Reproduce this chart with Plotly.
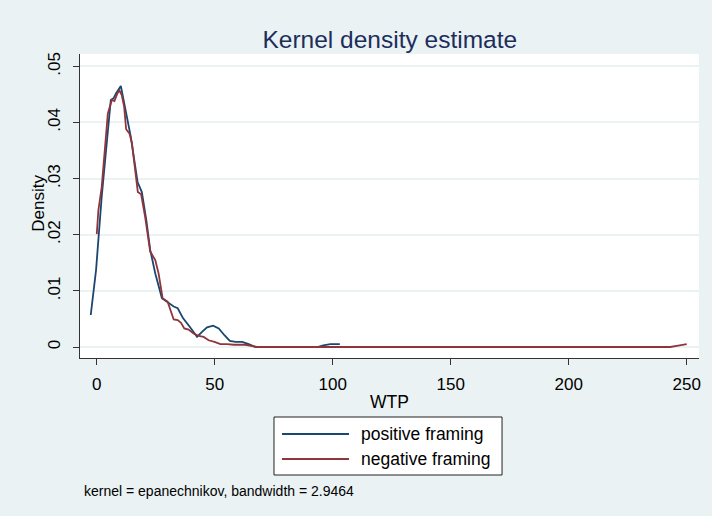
import plotly.graph_objects as go

# Kernel density estimates of willingness to pay (WTP) by framing condition
pos_wtp = [-2.55, -0.3, 2.1, 4.25, 5.95, 7.1, 8.2, 10.2, 11.3, 12.75, 14.45, 15.9, 17.3,
           19.1, 21.0, 22.65, 24.8, 27.6, 29.75, 32.6, 34.3, 36.6, 39.4, 42.5, 44.6,
           46.75, 49.3, 51.7, 54.1, 56.4, 58.8, 61.6, 64.4, 67.3, 75, 85, 93.5, 96,
           99, 103]
pos_density = [0.0057, 0.0137, 0.0268, 0.0368, 0.0440, 0.0443, 0.0452, 0.0465, 0.0440,
               0.0410, 0.0374, 0.0333, 0.0294, 0.0276, 0.0226, 0.0173, 0.0131, 0.0087,
               0.0081, 0.0072, 0.0069, 0.0051, 0.0036, 0.0018, 0.0027, 0.0035, 0.0038,
               0.0033, 0.0021, 0.0011, 0.0009, 0.0009, 0.0005, 0.0000, 0.0000, 0.0000,
               0.0000, 0.0003, 0.0005, 0.0005]

neg_wtp = [0.0, 0.7, 2.1, 3.2, 4.7, 6.4, 7.5, 8.8, 9.6, 10.6, 11.6, 12.45, 13.9, 14.9,
           16.3, 17.4, 18.8, 20.5, 22.65, 24.8, 26.2, 27.9, 30.0, 31.15, 32.6, 34.3,
           35.7, 37.1, 38.9, 41.0, 43.2, 45.3, 47.4, 49.9, 52.4, 55.2, 58.1, 63.0,
           65.8, 68.0, 100, 150, 200, 243, 247, 250]
neg_density = [0.0201, 0.0244, 0.0285, 0.0345, 0.0416, 0.0440, 0.0438, 0.0452, 0.0457,
               0.0449, 0.0428, 0.0388, 0.0380, 0.0363, 0.0315, 0.0276, 0.0272, 0.0232,
               0.0170, 0.0155, 0.0131, 0.0087, 0.0081, 0.0066, 0.0049, 0.0048, 0.0043,
               0.0033, 0.0031, 0.0024, 0.0020, 0.0018, 0.0012, 0.0009, 0.0005, 0.0005,
               0.0004, 0.0004, 0.0001, 0.0000, 0.0000, 0.0000, 0.0000, 0.0000, 0.0003,
               0.0005]

series_names = ["positive framing", "negative framing"]
series_colors = ["#1a476f", "#90353b"]

x_ticks = [0, 50, 100, 150, 200, 250]
y_ticks = [0, 0.01, 0.02, 0.03, 0.04, 0.05]
y_tick_labels = ["0", ".01", ".02", ".03", ".04", ".05"]

BG = "#EAF2F3"
AXIS = "#333333"
FONT = "Liberation Sans, Arial, sans-serif"
LINE_W = 1.8

fig = go.Figure()
for xs, ys, name, color in zip([pos_wtp, neg_wtp], [pos_density, neg_density],
                               series_names, series_colors):
    fig.add_trace(go.Scatter(x=xs, y=ys, mode="lines", name=name, showlegend=False,
                             line=dict(color=color, width=LINE_W)))

# Stata-style legend box below the plot: wide line keys with labels
box = dict(x0=0.3134, x1=0.6818, y0=-0.3849, y1=-0.1941)
key_x0, key_x1, label_x = 0.3263, 0.4346, 0.4507
row_y = [-0.250, -0.3322]

shapes = [dict(type="rect", xref="paper", yref="paper", line=dict(color="#222222", width=1),
               fillcolor="white", layer="above", **box)]
annotations = []
for name, color, yy in zip(series_names, series_colors, row_y):
    shapes.append(dict(type="line", xref="paper", yref="paper", x0=key_x0, x1=key_x1,
                       y0=yy, y1=yy, line=dict(color=color, width=LINE_W), layer="above"))
    annotations.append(dict(text=name, xref="paper", yref="paper", x=label_x, y=yy,
                            xanchor="left", yanchor="middle", showarrow=False,
                            font=dict(size=17.5, family=FONT, color="black")))

# y-axis title, rotated, sitting close to the tick labels
annotations.append(dict(text="Density", xref="paper", yref="paper", x=-0.0667, y=0.51,
                        xanchor="center", yanchor="middle", textangle=-90,
                        showarrow=False, font=dict(size=17, family=FONT, color="black")))

annotations.append(dict(text="kernel = epanechnikov, bandwidth = 2.9464",
                        xref="paper", yref="paper", x=0.004, y=-0.438,
                        xanchor="left", yanchor="middle", showarrow=False,
                        font=dict(size=14, family=FONT, color="black")))

fig.update_layout(
    width=712, height=516,
    margin=dict(l=80, r=13, t=54, b=158),
    paper_bgcolor=BG, plot_bgcolor="white",
    font=dict(family=FONT, color="black", size=17),
    title=dict(text="Kernel density estimate", x=0.5475, xanchor="center",
               y=1 - 39.5 / 516, yanchor="middle",
               font=dict(size=24.5, color="#1c2e5c", family=FONT)),
    shapes=shapes,
    annotations=annotations,
)

fig.update_xaxes(range=[-7.1, 255.2], tickvals=x_ticks, showgrid=False, zeroline=False,
                 showline=True, linecolor=AXIS, linewidth=1, ticks="outside",
                 ticklen=6, tickcolor=AXIS, tickfont=dict(size=17),
                 ticklabelstandoff=5,
                 title=dict(text="WTP", standoff=2, font=dict(size=17.5)))
fig.update_yaxes(range=[-0.00196, 0.0522], tickvals=y_ticks, ticktext=y_tick_labels,
                 tickangle=-90, showgrid=True, gridcolor=BG, gridwidth=1.5,
                 zeroline=False, showline=True, linecolor=AXIS, linewidth=1,
                 ticks="outside", ticklen=6, tickcolor=AXIS, tickfont=dict(size=17),
                 ticklabelstandoff=6)

fig.write_html("out.html")
